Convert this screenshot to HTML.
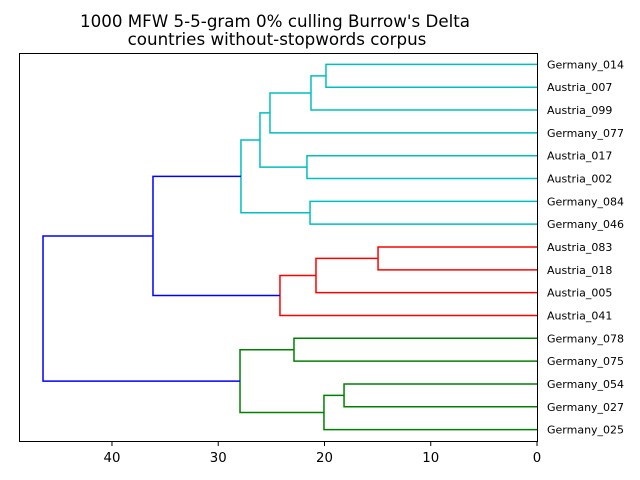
<!DOCTYPE html>
<html><head><meta charset="utf-8"><style>
body{margin:0;background:#fff;}
svg{display:block;font-family:"DejaVu Sans","Liberation Sans",sans-serif;}
</style></head><body>
<svg id="chart" width="640" height="480">
<text x="275" y="27" text-anchor="middle" font-size="16.7">1000 MFW 5-5-gram 0% culling Burrow's Delta</text>
<text x="277" y="45" text-anchor="middle" font-size="16.7">countries without-stopwords corpus</text>
<g id="links"></g>
<rect x="19.5" y="53.5" width="518" height="388" fill="none" stroke="#000" stroke-width="1"/>
<g id="xticks"></g>
<g id="ylabels"></g>
</svg>
<script>
const leaves = ["Germany_014","Austria_007","Austria_099","Germany_077","Austria_017","Austria_002","Germany_084","Germany_046","Austria_083","Austria_018","Austria_005","Austria_041","Germany_078","Germany_075","Germany_054","Germany_027","Germany_025"];
const mergeA = [0,17,18,4,19,6,21,8,24,25,23,12,14,29,28,27];
const mergeB = [1,2,3,5,20,7,22,9,10,11,26,13,15,16,30,31];
const mergeDist = [19.86,21.27,25.13,21.65,26.07,21.36,27.86,14.96,20.8,24.19,36.14,22.87,18.16,20.05,27.95,46.49];
const mergeColor = ["c","c","c","c","c","c","c","r","r","r","b","g","g","g","g","b"];
const xTicks = [0,10,20,30,40];

const colorMap = {c:"#00bfbf", r:"#ff0000", g:"#008000", b:"#0000ff"};
const NS = "http://www.w3.org/2000/svg";
const L = 19, R = 537, T = 53, B = 441, XMAX = 48.75;
const xs = d => R - d / XMAX * (R - L);
const ys = i => T + (10 * i + 5) / (10 * leaves.length) * (B - T);

const pos = leaves.map((n, i) => ({y: ys(i), h: 0}));
const linkG = document.getElementById("links");
mergeDist.forEach((d, k) => {
  const a = pos[mergeA[k]], b = pos[mergeB[k]];
  const p = document.createElementNS(NS, "path");
  p.setAttribute("d", `M${xs(a.h)},${a.y}H${xs(d)}V${b.y}H${xs(b.h)}`);
  p.setAttribute("fill", "none");
  p.setAttribute("stroke", colorMap[mergeColor[k]]);
  p.setAttribute("stroke-width", "1.5");
  
  
  linkG.appendChild(p);
  pos.push({y: (a.y + b.y) / 2, h: d});
});

const xg = document.getElementById("xticks");
xTicks.forEach(t => {
  const x = xs(t);
  const l = document.createElementNS(NS, "line");
  l.setAttribute("x1", x); l.setAttribute("x2", x);
  l.setAttribute("y1", B); l.setAttribute("y2", B + 5);
  l.setAttribute("stroke", "#000");
  
  
  xg.appendChild(l);
  const tx = document.createElementNS(NS, "text");
  tx.setAttribute("x", x); tx.setAttribute("y", B + 21);
  tx.setAttribute("text-anchor", "middle");
  tx.setAttribute("font-size", "13.3");
  tx.textContent = t;
  
  
  xg.appendChild(tx);
});

const yg = document.getElementById("ylabels");
leaves.forEach((n, i) => {
  const tx = document.createElementNS(NS, "text");
  tx.setAttribute("x", 547); tx.setAttribute("y", ys(i) + 4);
  tx.setAttribute("font-size", "11");
  tx.textContent = n;
  
  
  yg.appendChild(tx);
});
</script>
</body></html>
